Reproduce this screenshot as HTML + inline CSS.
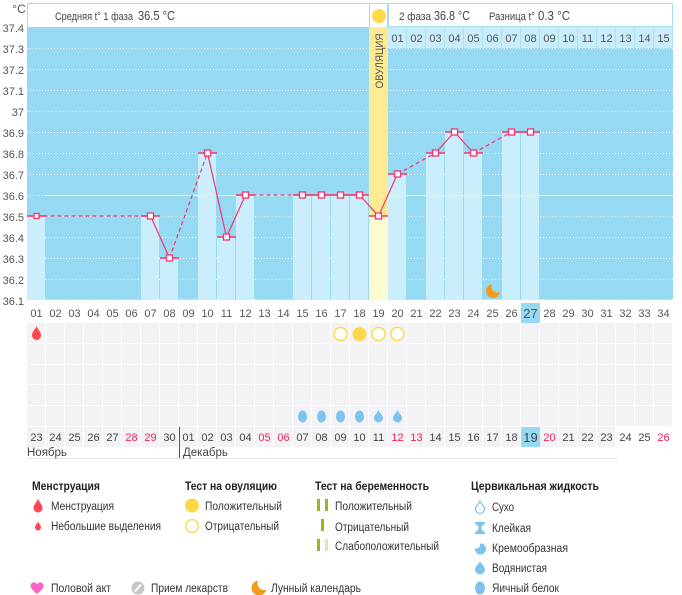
<!DOCTYPE html>
<html><head><meta charset="utf-8"><style>
html,body{margin:0;padding:0;background:#fff;}
svg{display:block;font-family:"Liberation Sans","DejaVu Sans",sans-serif;}
</style></head><body>
<svg width="682" height="595" viewBox="0 0 682 595" xmlns="http://www.w3.org/2000/svg">
<defs>
<pattern id="cells" x="27" y="0" width="19" height="595" patternUnits="userSpaceOnUse"><rect x="0" y="0" width="18" height="595" fill="#f3f3f6"/></pattern>
<pattern id="hdr" x="27" y="0" width="19" height="595" patternUnits="userSpaceOnUse"><rect x="0" y="0" width="19" height="595" fill="#ace0f4"/><rect x="0" y="0" width="18" height="595" fill="#c9edfb"/></pattern>
<mask id="moon1" maskUnits="userSpaceOnUse" x="480" y="276" width="30" height="30">
<rect x="480" y="276" width="30" height="30" fill="#000"/>
<circle cx="493" cy="291" r="7" fill="#fff"/>
<circle cx="497.5" cy="286.5" r="6" fill="#000"/>
</mask>
<mask id="moon2" maskUnits="userSpaceOnUse" x="245" y="575" width="30" height="30">
<rect x="245" y="575" width="30" height="30" fill="#000"/>
<circle cx="259" cy="588" r="7.5" fill="#fff"/>
<circle cx="264" cy="583.5" r="6.5" fill="#000"/>
</mask>
</defs>

<!-- y axis labels -->
<g font-size="11" fill="#555" text-anchor="end">
<text x="19" y="13" text-anchor="middle" font-size="12">°C</text>
<text x="24" y="32">37.4</text>
<text x="24" y="53">37.3</text>
<text x="24" y="74">37.2</text>
<text x="24" y="95">37.1</text>
<text x="24" y="116">37</text>
<text x="24" y="137">36.9</text>
<text x="24" y="158">36.8</text>
<text x="24" y="179">36.7</text>
<text x="24" y="200">36.6</text>
<text x="24" y="221">36.5</text>
<text x="24" y="242">36.4</text>
<text x="24" y="263">36.3</text>
<text x="24" y="284">36.2</text>
<text x="24" y="305">36.1</text>
</g>

<!-- header boxes -->
<rect x="27.5" y="3.5" width="342" height="24" fill="#fff" stroke="#a8dcef"/>
<rect x="369.5" y="3.5" width="18" height="24" fill="#fff" stroke="#a8dcef"/>
<rect x="388.5" y="3.5" width="284" height="23" fill="#fff" stroke="#a8dcef"/>
<circle cx="379" cy="16" r="7" fill="#ffd94a"/>
<g fill="#444" font-size="11">
<text x="55" y="20" textLength="78" lengthAdjust="spacingAndGlyphs">Средняя t° 1 фаза</text>
<text x="138" y="20" font-size="13" textLength="37" lengthAdjust="spacingAndGlyphs">36.5 °C</text>
<text x="399" y="20" textLength="32" lengthAdjust="spacingAndGlyphs">2 фаза</text>
<text x="434" y="20" font-size="13" textLength="36" lengthAdjust="spacingAndGlyphs">36.8 °C</text>
<text x="489" y="20" textLength="46" lengthAdjust="spacingAndGlyphs">Разница t°</text>
<text x="538" y="20" font-size="13" textLength="32" lengthAdjust="spacingAndGlyphs">0.3 °C</text>
</g>

<!-- chart background -->
<rect x="27" y="27" width="646" height="273" fill="#95d9f3"/>
<!-- gridlines -->
<g stroke="#ffffff" stroke-width="1" stroke-dasharray="1,2" shape-rendering="crispEdges">
<line x1="27" y1="48.5" x2="673" y2="48.5"/>
<line x1="27" y1="69.5" x2="673" y2="69.5"/>
<line x1="27" y1="90.5" x2="673" y2="90.5"/>
<line x1="27" y1="111.5" x2="673" y2="111.5"/>
<line x1="27" y1="132.5" x2="673" y2="132.5"/>
<line x1="27" y1="153.5" x2="673" y2="153.5"/>
<line x1="27" y1="174.5" x2="673" y2="174.5"/>
<line x1="27" y1="195.5" x2="673" y2="195.5"/>
<line x1="27" y1="216.5" x2="673" y2="216.5"/>
<line x1="27" y1="237.5" x2="673" y2="237.5"/>
<line x1="27" y1="258.5" x2="673" y2="258.5"/>
<line x1="27" y1="279.5" x2="673" y2="279.5"/>
<line x1="27" y1="299.5" x2="673" y2="299.5"/>
</g>

<!-- phase 2 day header row -->
<rect x="388" y="27" width="285" height="21" fill="url(#hdr)"/>
<g font-size="11" fill="#555" text-anchor="middle">
<text x="397.5" y="42">01</text><text x="416.5" y="42">02</text><text x="435.5" y="42">03</text><text x="454.5" y="42">04</text><text x="473.5" y="42">05</text><text x="492.5" y="42">06</text><text x="511.5" y="42">07</text><text x="530.5" y="42">08</text><text x="549.5" y="42">09</text><text x="568.5" y="42">10</text><text x="587.5" y="42">11</text><text x="606.5" y="42">12</text><text x="625.5" y="42">13</text><text x="644.5" y="42">14</text><text x="663.5" y="42">15</text>
</g>

<!-- ovulation column -->
<rect x="369" y="27" width="19" height="189" fill="#fdea93"/>
<rect x="369" y="216" width="19" height="84" fill="#fffad0"/>
<text transform="translate(383,61) rotate(-90)" font-size="11" fill="#555" text-anchor="middle" textLength="55" lengthAdjust="spacingAndGlyphs">ОВУЛЯЦИЯ</text>

<!-- bars -->
<g fill="#cbeefc">
<rect x="27" y="216" width="18" height="84"/>
<rect x="141" y="216" width="18" height="84"/>
<rect x="160" y="258" width="18" height="42"/>
<rect x="198" y="153" width="18" height="147"/>
<rect x="217" y="237" width="18" height="63"/>
<rect x="236" y="195" width="18" height="105"/>
<rect x="293" y="195" width="18" height="105"/>
<rect x="312" y="195" width="18" height="105"/>
<rect x="331" y="195" width="18" height="105"/>
<rect x="350" y="195" width="18" height="105"/>
<rect x="388" y="174" width="18" height="126"/>
<rect x="426" y="153" width="18" height="147"/>
<rect x="445" y="132" width="18" height="168"/>
<rect x="464" y="153" width="18" height="147"/>
<rect x="502" y="132" width="18" height="168"/>
<rect x="521" y="132" width="18" height="168"/>
</g>

<!-- coverline -->
<line x1="46" y1="195.5" x2="673" y2="195.5" stroke="#faf19c" stroke-width="1.3"/>

<!-- caps -->
<g stroke="#f5346b" stroke-width="1.5">
<line x1="27" y1="216" x2="46" y2="216"/>
<line x1="141" y1="216" x2="160" y2="216"/>
<line x1="160" y1="258" x2="179" y2="258"/>
<line x1="198" y1="153" x2="217" y2="153"/>
<line x1="217" y1="237" x2="236" y2="237"/>
<line x1="236" y1="195" x2="255" y2="195"/>
<line x1="293" y1="195" x2="369" y2="195"/>
<line x1="369" y1="216" x2="388" y2="216"/>
<line x1="388" y1="174" x2="407" y2="174"/>
<line x1="426" y1="153" x2="445" y2="153"/>
<line x1="445" y1="132" x2="464" y2="132"/>
<line x1="464" y1="153" x2="483" y2="153"/>
<line x1="502" y1="132" x2="540" y2="132"/>
</g>

<!-- lines -->
<g fill="none" stroke="#f5346b" stroke-width="1.2">
<polyline points="150.5,216 169.5,258"/>
<polyline points="207.5,153 226.5,237 245.5,195"/>
<polyline points="302.5,195 321.5,195 340.5,195 359.5,195 378.5,216 397.5,174"/>
<polyline points="435.5,153 454.5,132 473.5,153"/>
<polyline points="511.5,132 530.5,132"/>
</g>
<g fill="none" stroke="#f5346b" stroke-width="1.2" stroke-dasharray="4,3">
<polyline points="36.5,216 150.5,216"/>
<polyline points="169.5,258 207.5,153"/>
<polyline points="245.5,195 302.5,195"/>
<polyline points="397.5,174 435.5,153"/>
<polyline points="473.5,153 511.5,132"/>
</g>

<!-- markers -->
<g fill="#fff" stroke="#f5346b" stroke-width="1.3">
<rect x="34" y="213.5" width="5" height="5"/>
<rect x="147.5" y="213" width="6" height="6"/>
<rect x="166.5" y="255" width="6" height="6"/>
<rect x="204.5" y="150" width="6" height="6"/>
<rect x="223.5" y="234" width="6" height="6"/>
<rect x="242.5" y="192" width="6" height="6"/>
<rect x="299.5" y="192" width="6" height="6"/>
<rect x="318.5" y="192" width="6" height="6"/>
<rect x="337.5" y="192" width="6" height="6"/>
<rect x="356.5" y="192" width="6" height="6"/>
<rect x="375.5" y="213" width="6" height="6"/>
<rect x="394.5" y="171" width="6" height="6"/>
<rect x="432.5" y="150" width="6" height="6"/>
<rect x="451.5" y="129" width="6" height="6"/>
<rect x="470.5" y="150" width="6" height="6"/>
<rect x="508.5" y="129" width="6" height="6"/>
<rect x="527.5" y="129" width="6" height="6"/>
</g>

<!-- moon in chart -->
<rect x="480" y="276" width="30" height="30" fill="#f39b1f" mask="url(#moon1)"/>

<!-- cycle day labels -->
<rect x="521" y="303" width="19" height="20" fill="#95d9f3"/>
<g font-size="11" fill="#555" text-anchor="middle">
<text x="36.5" y="317">01</text><text x="55.5" y="317">02</text><text x="74.5" y="317">03</text><text x="93.5" y="317">04</text><text x="112.5" y="317">05</text><text x="131.5" y="317">06</text><text x="150.5" y="317">07</text><text x="169.5" y="317">08</text><text x="188.5" y="317">09</text><text x="207.5" y="317">10</text><text x="226.5" y="317">11</text><text x="245.5" y="317">12</text><text x="264.5" y="317">13</text><text x="283.5" y="317">14</text><text x="302.5" y="317">15</text><text x="321.5" y="317">16</text><text x="340.5" y="317">17</text><text x="359.5" y="317">18</text><text x="378.5" y="317">19</text><text x="397.5" y="317">20</text><text x="416.5" y="317">21</text><text x="435.5" y="317">22</text><text x="454.5" y="317">23</text><text x="473.5" y="317">24</text><text x="492.5" y="317">25</text><text x="511.5" y="317">26</text><text x="530.5" y="318" font-size="13">27</text><text x="549.5" y="317">28</text><text x="568.5" y="317">29</text><text x="587.5" y="317">30</text><text x="606.5" y="317">31</text><text x="625.5" y="317">32</text><text x="644.5" y="317">33</text><text x="663.5" y="317">34</text>
</g>

<!-- grid rows -->
<rect x="27" y="323" width="646" height="20" fill="url(#cells)"/>
<rect x="27" y="344" width="646" height="20" fill="url(#cells)"/>
<rect x="27" y="365" width="646" height="19" fill="url(#cells)"/>
<rect x="27" y="385" width="646" height="20" fill="url(#cells)"/>
<rect x="27" y="406" width="646" height="20" fill="url(#cells)"/>
<rect x="27" y="427" width="589" height="20" fill="url(#cells)"/>

<!-- row icons -->
<path d="M36.5,326 C37.5,329 41,331.5 41,335.5 A4.5,4.5 0 0 1 32,335.5 C32,331.5 35.5,329 36.5,326 Z" fill="#ff4653"/>
<g stroke="#ffd84a" stroke-width="1.4" fill="#fff">
<circle cx="340.5" cy="334" r="6.5"/>
<circle cx="378.5" cy="334" r="6.5"/>
<circle cx="397.5" cy="334" r="6.5"/>
</g>
<circle cx="359.5" cy="334" r="7" fill="#ffd84a"/>
<g fill="#7cc3ef">
<ellipse cx="302.5" cy="416.5" rx="4.5" ry="6"/>
<ellipse cx="321.5" cy="416.5" rx="4.5" ry="6"/>
<ellipse cx="340.5" cy="416.5" rx="4.5" ry="6"/>
<ellipse cx="359.5" cy="416.5" rx="4.5" ry="6"/>
<path d="M378.5,410 C379.5,413 383,415 383,418 A4.5,4.5 0 0 1 374,418 C374,415 377.5,413 378.5,410 Z"/>
<path d="M397.5,410 C398.5,413 402,415 402,418 A4.5,4.5 0 0 1 393,418 C393,415 396.5,413 397.5,410 Z"/>
</g>

<!-- calendar dates -->
<rect x="521" y="427" width="19" height="20" fill="#95d9f3"/>
<g font-size="11" fill="#444" text-anchor="middle">
<text x="36.5" y="441">23</text><text x="55.5" y="441">24</text><text x="74.5" y="441">25</text><text x="93.5" y="441">26</text><text x="112.5" y="441">27</text><text x="131.5" y="441" fill="#f0245a">28</text><text x="150.5" y="441" fill="#f0245a">29</text><text x="169.5" y="441">30</text><text x="188.5" y="441">01</text><text x="207.5" y="441">02</text><text x="226.5" y="441">03</text><text x="245.5" y="441">04</text><text x="264.5" y="441" fill="#f0245a">05</text><text x="283.5" y="441" fill="#f0245a">06</text><text x="302.5" y="441">07</text><text x="321.5" y="441">08</text><text x="340.5" y="441">09</text><text x="359.5" y="441">10</text><text x="378.5" y="441">11</text><text x="397.5" y="441" fill="#f0245a">12</text><text x="416.5" y="441" fill="#f0245a">13</text><text x="435.5" y="441">14</text><text x="454.5" y="441">15</text><text x="473.5" y="441">16</text><text x="492.5" y="441">17</text><text x="511.5" y="441">18</text><text x="530.5" y="442" font-size="13">19</text><text x="549.5" y="441" fill="#f0245a">20</text><text x="568.5" y="441">21</text><text x="587.5" y="441">22</text><text x="606.5" y="441">23</text><text x="625.5" y="441">24</text><text x="644.5" y="441">25</text><text x="663.5" y="441" fill="#f0245a">26</text>
</g>
<line x1="179.5" y1="427" x2="179.5" y2="459" stroke="#555" stroke-width="1"/>
<line x1="27" y1="458.5" x2="617" y2="458.5" stroke="#e2e2e2" stroke-width="1"/>
<g font-size="11.5" fill="#444">
<text x="27" y="456">Ноябрь</text>
<text x="183" y="456">Декабрь</text>
</g>

<!-- legend headings -->
<g font-size="12" font-weight="bold" fill="#222">
<text x="32" y="490" textLength="68" lengthAdjust="spacingAndGlyphs">Менструация</text>
<text x="185" y="490" textLength="92" lengthAdjust="spacingAndGlyphs">Тест на овуляцию</text>
<text x="315" y="490" textLength="114" lengthAdjust="spacingAndGlyphs">Тест на беременность</text>
<text x="471" y="490" textLength="128" lengthAdjust="spacingAndGlyphs">Цервикальная жидкость</text>
</g>
<g font-size="11.5" fill="#333">
<text x="51" y="510" textLength="63" lengthAdjust="spacingAndGlyphs">Менструация</text>
<text x="51" y="530" textLength="110" lengthAdjust="spacingAndGlyphs">Небольшие выделения</text>
<text x="205" y="510" textLength="77" lengthAdjust="spacingAndGlyphs">Положительный</text>
<text x="205" y="530" textLength="74" lengthAdjust="spacingAndGlyphs">Отрицательный</text>
<text x="335" y="510" textLength="77" lengthAdjust="spacingAndGlyphs">Положительный</text>
<text x="335" y="531" textLength="74" lengthAdjust="spacingAndGlyphs">Отрицательный</text>
<text x="335" y="550" textLength="104" lengthAdjust="spacingAndGlyphs">Слабоположительный</text>
<text x="492" y="511" textLength="22" lengthAdjust="spacingAndGlyphs">Сухо</text>
<text x="492" y="532" textLength="39" lengthAdjust="spacingAndGlyphs">Клейкая</text>
<text x="492" y="552" textLength="76" lengthAdjust="spacingAndGlyphs">Кремообразная</text>
<text x="492" y="572" textLength="55" lengthAdjust="spacingAndGlyphs">Водянистая</text>
<text x="492" y="592" textLength="67" lengthAdjust="spacingAndGlyphs">Яичный белок</text>
<text x="51" y="592" textLength="60" lengthAdjust="spacingAndGlyphs">Половой акт</text>
<text x="151" y="592" textLength="77" lengthAdjust="spacingAndGlyphs">Прием лекарств</text>
<text x="271" y="592" textLength="90" lengthAdjust="spacingAndGlyphs">Лунный календарь</text>
</g>

<!-- legend icons -->
<path d="M38,498.5 C39,502 42.5,504.5 42.5,508 A4.5,4.5 0 0 1 33.5,508 C33.5,504.5 37,502 38,498.5 Z" fill="#ff4653"/>
<path d="M38,521.5 C38.7,523.5 41,525 41,527.5 A3,3 0 0 1 35,527.5 C35,525 37.3,523.5 38,521.5 Z" fill="#ff4653"/>
<circle cx="192" cy="505.5" r="7" fill="#ffd84a"/>
<circle cx="192" cy="526" r="6.3" fill="#fff" stroke="#ffd84a" stroke-width="1.4"/>
<g fill="#8dba1e">
<rect x="317" y="499" width="3" height="12"/>
<rect x="325" y="499" width="3" height="12"/>
<rect x="321" y="519" width="3" height="12"/>
<rect x="317" y="539" width="3" height="12"/>
</g>
<rect x="325" y="539" width="3" height="12" fill="#d8eab2"/>
<!-- cervical icons -->
<path d="M480,501 C481,504 484.5,506 484.5,509 A4.5,4.5 0 0 1 475.5,509 C475.5,506 479,504 480,501 Z" fill="#fff" stroke="#7cc3ef" stroke-width="1.2"/>
<path d="M475,522 L485,522 L485,523.5 L481.5,526.5 L481.5,529.5 L485,532.5 L485,534 L475,534 L475,532.5 L478.5,529.5 L478.5,526.5 L475,523.5 Z" fill="#7cc3ef"/>
<circle cx="480.5" cy="549" r="5.5" fill="#7cc3ef"/>
<circle cx="476.5" cy="545" r="3.5" fill="#fff"/>
<path d="M480,561 C481,564 485,566.5 485,569.5 A5,5 0 0 1 475,569.5 C475,566.5 479,564 480,561 Z" fill="#7cc3ef"/>
<ellipse cx="480" cy="588" rx="5" ry="6.5" fill="#7cc3ef"/>
<!-- bottom row icons -->
<path d="M37,594 C31,589.5 30,586.5 30.8,584.5 C32,581.5 35.5,581.5 37,584.5 C38.5,581.5 42,581.5 43.2,584.5 C44,586.5 43,589.5 37,594 Z" fill="#ff63c3"/>
<circle cx="138" cy="588" r="6.5" fill="#c6c6c6"/>
<line x1="135" y1="591.5" x2="141" y2="584.5" stroke="#fff" stroke-width="2"/>
<rect x="245" y="575" width="30" height="30" fill="#f39b1f" mask="url(#moon2)"/>
</svg>
</body></html>
